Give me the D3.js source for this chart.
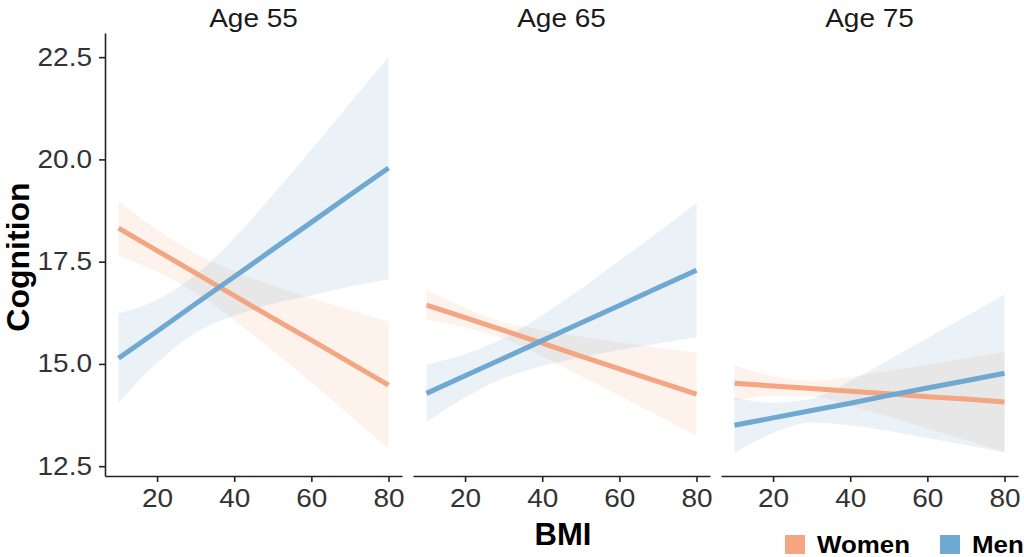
<!DOCTYPE html>
<html>
<head>
<meta charset="utf-8">
<script src="https://cdn.jsdelivr.net/npm/d3@7"></script>
<style>
  body { margin: 0; background: #fff; }
  svg { display: block; font-family: "Liberation Sans", Arial, sans-serif; }
</style>
</head>
<body>
<svg id="chart" width="1024" height="557"></svg>
<script>
// facets and x positions (BMI)
const panels = ["Age 55", "Age 65", "Age 75"];
const bmi = [10, 20, 30, 40, 50, 60, 70, 80];
const xTicks = [20, 40, 60, 80];
const yTicks = [12.5, 15.0, 17.5, 20.0, 22.5];

// fitted lines and confidence bands, one row per facet
const womenFit = [
    [18.32, 17.77, 17.22, 16.67, 16.12, 15.58, 15.03, 14.48],
    [16.44, 16.13, 15.82, 15.51, 15.19, 14.88, 14.57, 14.26],
    [14.53, 14.46, 14.40, 14.33, 14.27, 14.20, 14.14, 14.07]
];
const womenLo = [
    [17.65, 17.26, 16.74, 16.07, 15.32, 14.55, 13.74, 12.93],
    [16.08, 15.89, 15.62, 15.19, 14.71, 14.23, 13.74, 13.24],
    [14.10, 14.22, 14.21, 13.98, 13.71, 13.42, 13.14, 12.84]
];
const womenHi = [
    [18.99, 18.28, 17.70, 17.27, 16.92, 16.61, 16.32, 16.03],
    [16.80, 16.37, 16.02, 15.83, 15.67, 15.53, 15.40, 15.28],
    [14.96, 14.70, 14.59, 14.68, 14.83, 14.98, 15.14, 15.30]
];
const menFit = [
    [15.14, 15.80, 16.47, 17.13, 17.80, 18.46, 19.13, 19.79],
    [14.28, 14.71, 15.14, 15.57, 16.00, 16.43, 16.86, 17.29],
    [13.50, 13.68, 13.86, 14.04, 14.23, 14.41, 14.59, 14.77]
];
const menLo = [
    [14.05, 15.03, 15.76, 16.18, 16.47, 16.68, 16.89, 17.07],
    [13.58, 14.18, 14.65, 14.95, 15.16, 15.34, 15.50, 15.65],
    [12.83, 13.31, 13.57, 13.50, 13.36, 13.19, 13.02, 12.84]
];
const menHi = [
    [16.23, 16.57, 17.18, 18.08, 19.13, 20.24, 21.37, 22.51],
    [14.98, 15.24, 15.63, 16.19, 16.84, 17.52, 18.22, 18.93],
    [14.17, 14.05, 14.15, 14.58, 15.10, 15.63, 16.16, 16.70]
];

const groups = ["Women", "Men"];
const colors = { Women: "#f4a582", Men: "#6fa8d0" };

let svg = d3.select("#chart");
let panelLeft = [105, 413, 721],
    panelW = 297,
    plotTop = 33,
    plotBottom = 476;
// the reference image is a little wider than tall, so text gets stretched
let stretch = 1.12;

let xScale = d3.scaleLinear().domain([6.5, 83.5]).range([0, panelW]);
let yScale = d3.scaleLinear().domain([12.26, 23.09]).range([plotBottom, plotTop]);

panels.forEach(function (name, i) {
    let g = svg.append("g").attr("transform", "translate(" + panelLeft[i] + ",0)");

    let series = [
        { key: "Women", fit: womenFit[i], lo: womenLo[i], hi: womenHi[i] },
        { key: "Men", fit: menFit[i], lo: menLo[i], hi: menHi[i] }
    ];

    let band = d3.area()
        .curve(d3.curveMonotoneX)
        .x((d, j) => xScale(bmi[j]))
        .y0((d) => yScale(d[0]))
        .y1((d) => yScale(d[1]));

    series.forEach(function (s) {
        g.append("path")
            .attr("d", band(s.lo.map((v, j) => [v, s.hi[j]])))
            .attr("fill", colors[s.key])
            .attr("fill-opacity", 0.15);
    });

    let line = d3.line()
        .x((d, j) => xScale(bmi[j]))
        .y((d) => yScale(d));

    series.forEach(function (s) {
        g.append("path")
            .attr("d", line(s.fit))
            .attr("fill", "none")
            .attr("stroke", colors[s.key])
            .attr("stroke-width", 5);
    });

    // x axis on every facet
    let xa = g.append("g")
        .attr("transform", "translate(0," + plotBottom + ")")
        .call(d3.axisBottom(xScale).tickValues(xTicks).tickSize(6).tickSizeOuter(0).tickPadding(7));
    xa.select(".domain").attr("stroke", "#222").attr("stroke-width", 1.6);
    xa.selectAll(".tick line").attr("stroke", "#222").attr("stroke-width", 1.6);
    xa.selectAll("text")
        .attr("fill", "#333")
        .attr("font-size", 25)
        .attr("transform", "scale(" + stretch + ",1)");

    // facet title
    g.append("text")
        .attr("transform", "translate(" + panelW / 2 + ",27) scale(" + stretch + ",1)")
        .attr("text-anchor", "middle")
        .attr("font-size", 25)
        .attr("fill", "#1a1a1a")
        .text(name);

    // y axis only on the first facet
    if (i === 0) {
        let ya = g.append("g")
            .call(d3.axisLeft(yScale).tickValues(yTicks).tickFormat(d3.format(".1f"))
                .tickSize(6).tickSizeOuter(0).tickPadding(7));
        ya.select(".domain").attr("stroke", "#222").attr("stroke-width", 1.6);
        ya.selectAll(".tick line").attr("stroke", "#222").attr("stroke-width", 1.6);
        ya.selectAll("text")
            .attr("fill", "#333")
            .attr("font-size", 25)
            .attr("x", -13 / stretch)
            .attr("transform", "scale(" + stretch + ",1)");
    }
});

// axis titles
svg.append("text")
    .attr("transform", "translate(29,257) rotate(-90)")
    .attr("text-anchor", "middle")
    .attr("font-size", 32)
    .attr("font-weight", "bold")
    .text("Cognition");

svg.append("text")
    .attr("x", 563)
    .attr("y", 545)
    .attr("text-anchor", "middle")
    .attr("font-size", 31)
    .attr("font-weight", "bold")
    .text("BMI");

// legend
let legendX = [785, 940];
groups.forEach(function (k, i) {
    let lg = svg.append("g").attr("transform", "translate(" + legendX[i] + ",535)");
    lg.append("rect")
        .attr("width", 20)
        .attr("height", 19)
        .attr("fill", colors[k]);
    lg.append("text")
        .attr("transform", "translate(32,18) scale(1.08,1)")
        .attr("font-size", 24)
        .attr("font-weight", "bold")
        .text(k);
});
</script>
</body>
</html>
